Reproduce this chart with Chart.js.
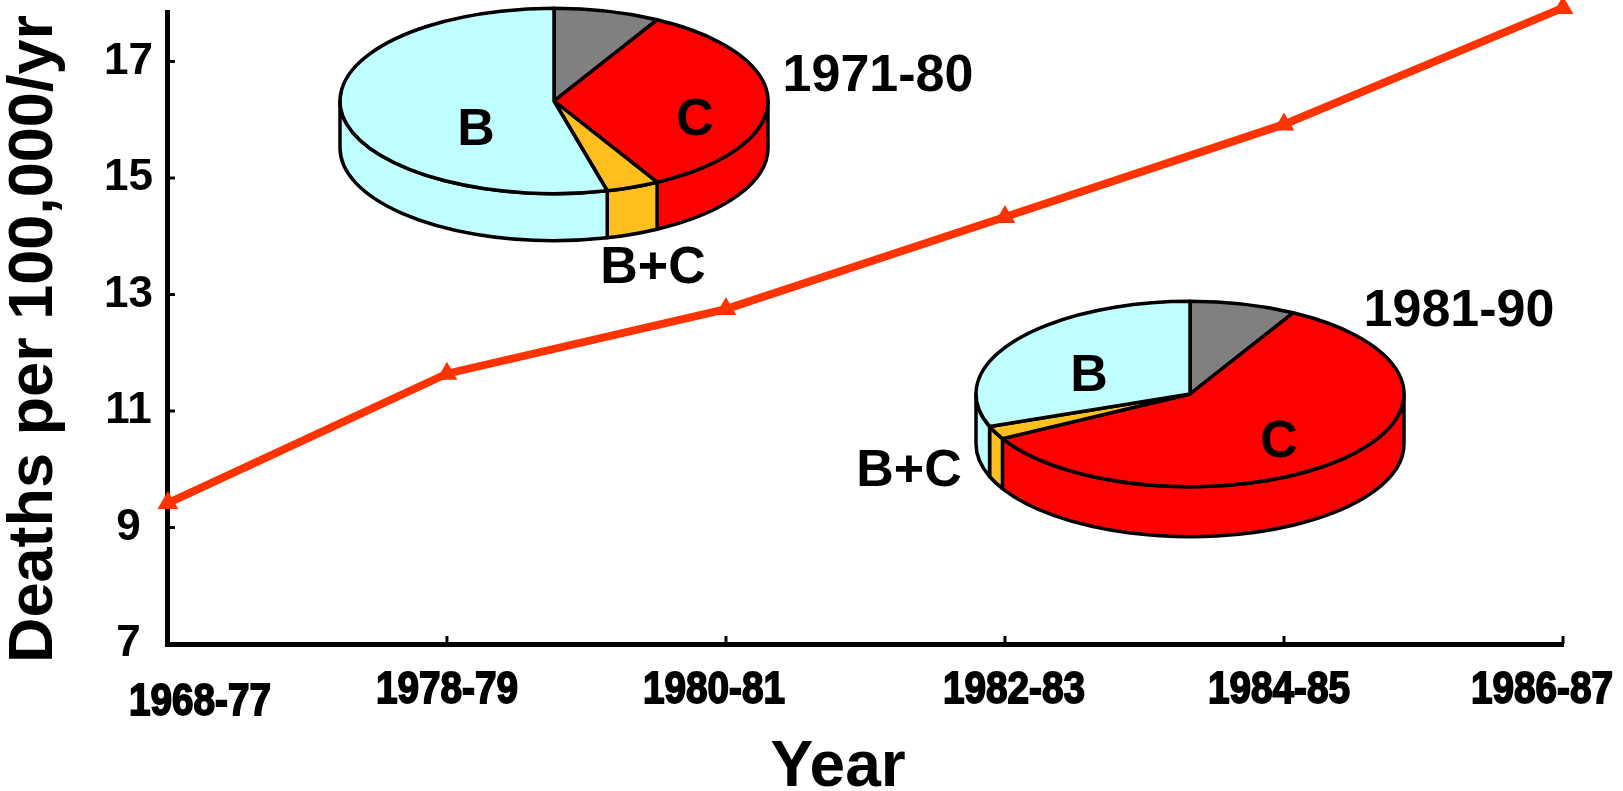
<!DOCTYPE html>
<html>
<head>
<meta charset="utf-8">
<title>Deaths per 100,000/yr</title>
<script src="https://cdn.jsdelivr.net/npm/chart.js@4.4.1/dist/chart.umd.min.js"></script>
<style>
  html, body { margin: 0; padding: 0; background: #fff; overflow: hidden; }
  #wrap { position: relative; width: 1623px; height: 791px; }
  #wrap canvas { position: absolute; }
  .lbl { position: absolute; font: bold 52px "Liberation Sans", Arial, sans-serif; color: #000;
         transform: translate(-50%, -50%); white-space: nowrap; line-height: 1; }
</style>
</head>
<body>
<div id="wrap">
  <canvas id="lineChart" width="1623" height="791" style="left:0;top:0"></canvas>
  <canvas id="pie1" width="450" height="306" style="left:329px;top:-52px"></canvas>
  <canvas id="pie2" width="450" height="306" style="left:965px;top:241px"></canvas>
</div>
<script>
// Dữ liệu đường
const years = ['1968-77', '1978-79', '1980-81', '1982-83', '1984-85', '1986-87'];
const deathRates = [9.42, 11.64, 12.75, 14.33, 15.92, 17.92];
const yTicks = [7, 9, 11, 13, 15, 17];
const xTitle = 'Year';
const yTitle = 'Deaths per 100,000/yr';

// Dữ liệu bánh (theo chiều kim đồng hồ từ đỉnh)
const pieGroups = ['Other', 'C', 'B+C', 'B'];
const pieColors = ['#808080', '#FF0000', '#FFBF1F', '#C0FFFF'];
const pie1971 = [8, 34, 4, 54];
const pie1981 = [8, 59, 2.3, 30.7];

// lệch vị trí nhãn trục x như bản gốc
const xLabelShift = [32, 0, -12, 9, -5, -21];
const xLabelDrop = [12, 0, 0, 0, 0, 0];

Chart.defaults.font.family = '"Liberation Sans", Arial, sans-serif';
Chart.defaults.color = '#000';

// vạch chia nhỏ hướng vào trong, nhãn trục x kiểu chữ hẹp, tiêu đề trục
const axisDecor = {
  id: 'axisDecor',
  afterDraw(chart) {
    const ctx = chart.ctx;
    const x = chart.scales.x, y = chart.scales.y;
    ctx.save();
    ctx.strokeStyle = '#000';
    ctx.lineWidth = 3;
    x.ticks.forEach((t, i) => {
      const px = x.getPixelForTick(i);
      ctx.beginPath(); ctx.moveTo(px, x.top); ctx.lineTo(px, x.top - 8); ctx.stroke();
    });
    y.ticks.forEach((t, i) => {
      const py = y.getPixelForTick(i);
      ctx.beginPath(); ctx.moveTo(y.right, py); ctx.lineTo(y.right + 7, py); ctx.stroke();
    });

    ctx.fillStyle = '#000';
    ctx.lineWidth = 1.8;
    ctx.font = 'bold 44px "Liberation Sans", Arial, sans-serif';
    ctx.textAlign = 'center';
    ctx.textBaseline = 'alphabetic';
    x.ticks.forEach((t, i) => {
      const px = x.getPixelForTick(i) + xLabelShift[i];
      ctx.save();
      ctx.translate(px, x.top + 59 + xLabelDrop[i]);
      ctx.scale(0.88, 1);
      ctx.fillText(years[i], 0, 0);
      ctx.strokeText(years[i], 0, 0);
      ctx.restore();
    });

    // tiêu đề trục
    ctx.font = 'bold 64px "Liberation Sans", Arial, sans-serif';
    ctx.fillText(xTitle, 838, 786);
    ctx.save();
    ctx.font = 'bold 63px "Liberation Sans", Arial, sans-serif';
    ctx.translate(52, 339);
    ctx.rotate(-Math.PI / 2);
    ctx.fillText(yTitle, 0, 0);
    ctx.restore();
    ctx.restore();
  }
};

new Chart(document.getElementById('lineChart'), {
  type: 'line',
  data: {
    labels: years,
    datasets: [{
      data: deathRates,
      borderColor: '#FF3300',
      backgroundColor: '#FF3300',
      borderWidth: 8,
      pointStyle: 'triangle',
      pointRadius: 4,
      tension: 0,
      clip: false
    }]
  },
  options: {
    responsive: false,
    animation: false,
    layout: { padding: { left: 104, right: 60, top: 0, bottom: 147 } },
    plugins: { legend: { display: false }, tooltip: { enabled: false } },
    scales: {
      x: {
        offset: false,
        grid: { display: false, drawTicks: false },
        border: { color: '#000', width: 5 },
        ticks: { display: false, autoSkip: false },
        title: { display: false }
      },
      y: {
        min: 7, max: 17.85,
        afterBuildTicks: s => { s.ticks = yTicks.map(v => ({ value: v })); },
        grid: { display: false, drawTicks: true, tickLength: 15 },
        border: { color: '#000', width: 5 },
        ticks: { padding: 0, crossAlign: 'center', font: { size: 44, weight: 'bold', lineHeight: 0.1 } },
        title: { display: false }
      }
    }
  },
  plugins: [axisDecor]
});

// vẽ bánh 3D từ các cung mà Chart.js đã tính
const pie3d = {
  id: 'pie3d',
  beforeDatasetsDraw(chart, args, opts) {
    const ctx = chart.ctx;
    const arcs = chart.getDatasetMeta(0).data;
    if (!arcs.length) return;
    const cx = arcs[0].x, cy = arcs[0].y, rx = arcs[0].outerRadius;
    const ry = rx * opts.tilt, depth = opts.depth;
    ctx.save();
    ctx.lineWidth = 3.5;
    ctx.strokeStyle = '#000';
    ctx.lineJoin = 'round';
    // thành bên (nửa trước)
    arcs.forEach(arc => {
      const a = Math.max(arc.startAngle, 0), b = Math.min(arc.endAngle, Math.PI);
      if (a >= b) return;
      ctx.beginPath();
      ctx.ellipse(cx, cy, rx, ry, 0, a, b);
      ctx.lineTo(cx + rx * Math.cos(b), cy + ry * Math.sin(b) + depth);
      ctx.ellipse(cx, cy + depth, rx, ry, 0, b, a, true);
      ctx.closePath();
      ctx.fillStyle = arc.options.backgroundColor;
      ctx.fill();
      ctx.stroke();
    });
    // mặt trên
    arcs.forEach(arc => {
      ctx.beginPath();
      ctx.moveTo(cx, cy);
      ctx.ellipse(cx, cy, rx, ry, 0, arc.startAngle, arc.endAngle);
      ctx.closePath();
      ctx.fillStyle = arc.options.backgroundColor;
      ctx.fill();
      ctx.stroke();
    });
    ctx.restore();
    return false;
  }
};

function makePie(id, values, depth) {
  new Chart(document.getElementById(id), {
    type: 'pie',
    data: { labels: pieGroups, datasets: [{ data: values, backgroundColor: pieColors, borderWidth: 0 }] },
    options: {
      responsive: false,
      animation: false,
      radius: 214,
      layout: { padding: 0 },
      plugins: { legend: { display: false }, tooltip: { enabled: false }, pie3d: { tilt: 0.433, depth: depth } }
    },
    plugins: [pie3d]
  });
}
makePie('pie1', pie1971, 47);
makePie('pie2', pie1981, 50);

// nhãn chữ quanh bánh
const pieLabels = [
  { text: 'B', x: 476, y: 127 },
  { text: 'C', x: 695, y: 117 },
  { text: 'B+C', x: 653, y: 265 },
  { text: '1971-80', x: 878, y: 73 },
  { text: 'B', x: 1089, y: 373 },
  { text: 'C', x: 1279, y: 439 },
  { text: 'B+C', x: 909, y: 468 },
  { text: '1981-90', x: 1459, y: 308 }
];
const wrap = document.getElementById('wrap');
pieLabels.forEach(l => {
  const d = document.createElement('div');
  d.className = 'lbl';
  d.textContent = l.text;
  d.style.left = l.x + 'px';
  d.style.top = l.y + 'px';
  wrap.appendChild(d);
});
</script>
</body>
</html>
